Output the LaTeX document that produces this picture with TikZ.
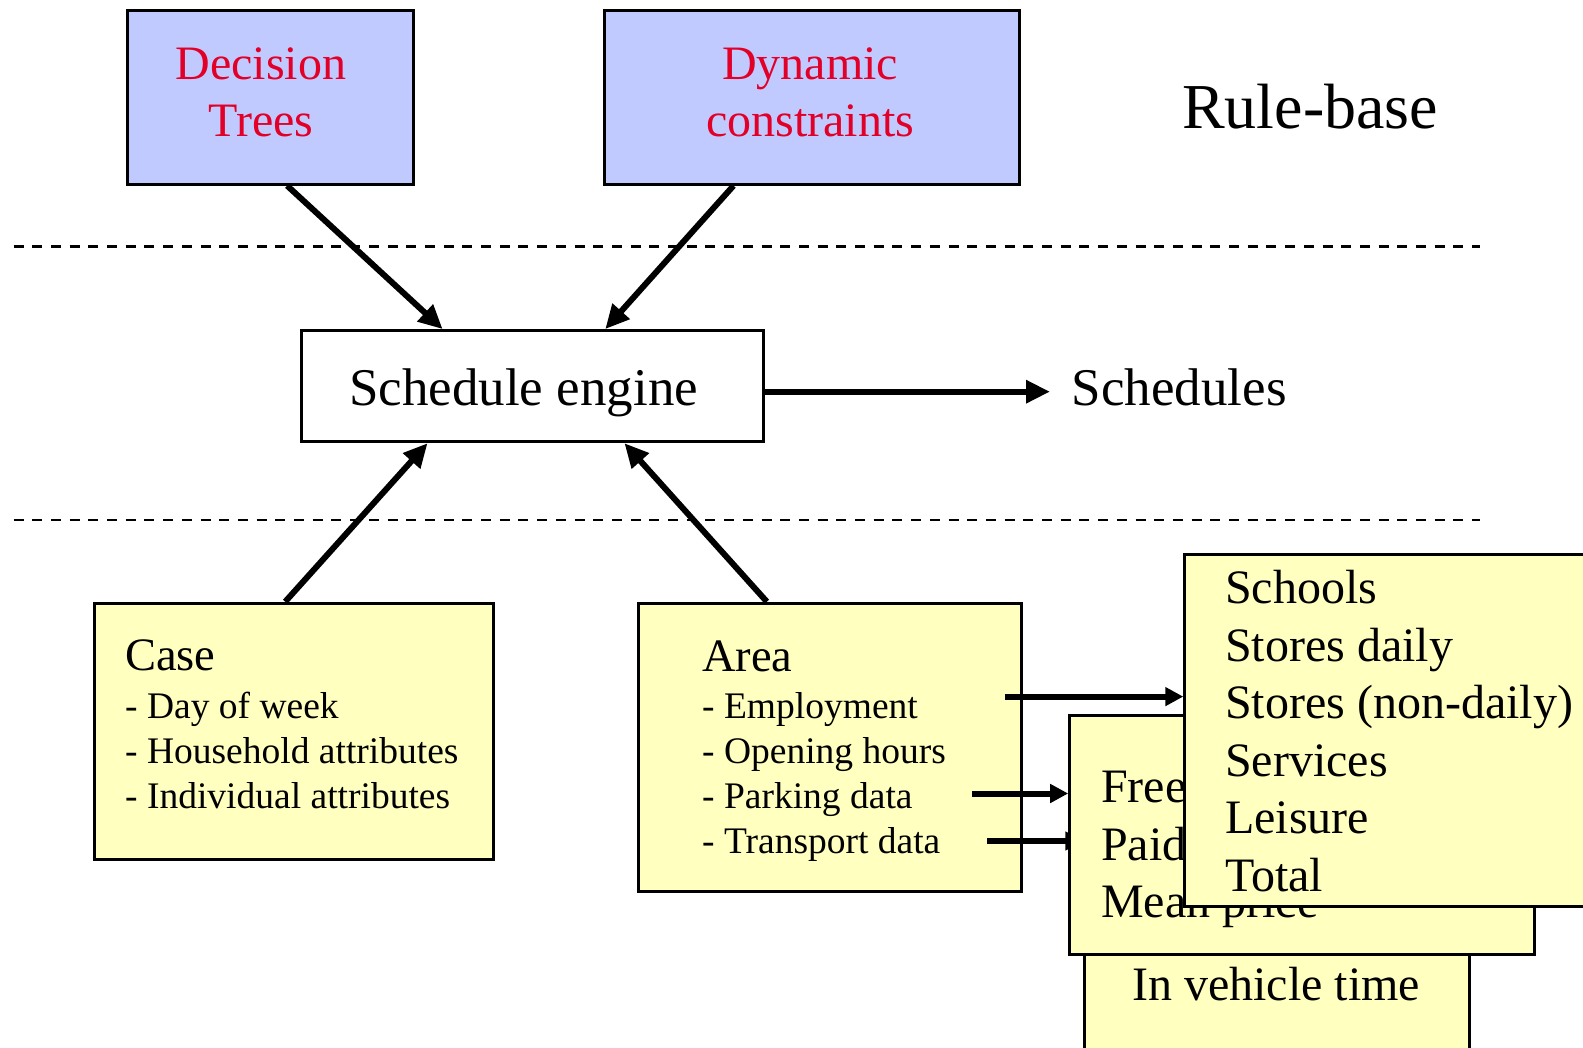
\documentclass[tikz,border=0pt]{standalone}
\usepackage{fontspec}
\setmainfont{Liberation Serif}
\usetikzlibrary{arrows.meta,calc}

\definecolor{ruleblue}{RGB}{192,202,255}
\definecolor{rulered}{RGB}{226,0,40}
\definecolor{datayellow}{RGB}{255,255,192}

\tikzset{
  box/.style={draw=black, line width=3pt, inner sep=0pt, anchor=north west},
  rulebox/.style={box, fill=ruleblue},
  databox/.style={box, fill=datayellow},
  enginebox/.style={box, fill=white},
  flow/.style={line width=6pt, -{Triangle[length=24pt,width=22pt]}},
  feed/.style={line width=6pt, -{Triangle[length=18pt,width=18pt]}},
  layer/.style={line width=2.6pt, dash pattern=on 10pt off 8.7pt},
  txt/.style={anchor=base west, inner sep=0pt},
  ctxt/.style={anchor=base, inner sep=0pt},
  huge/.style={font=\fontsize{64}{72}\selectfont},
  large/.style={font=\fontsize{53}{60}\selectfont},
  medium/.style={font=\fontsize{48}{56}\selectfont},
  title/.style={font=\fontsize{46.5}{54}\selectfont},
  small/.style={font=\fontsize{37.5}{44}\selectfont},
  rule/.style={ctxt, medium, text=rulered},
}

\begin{document}
\begin{tikzpicture}[x=1pt, y=-1pt]
  \useasboundingbox (0,0) rectangle (1583,1048);
  \clip (0,0) rectangle (1583,1048);

  % layer separators
  \draw[layer] (13.5,246.3) -- (1480,246.3);
  \draw[layer] (13.5,520) -- (1480,520);

  % rule-base
  \node[rulebox, minimum width=285.7pt, minimum height=173.6pt] (dt) at (126.2,9.1) {};
  \node[rule] (dt1) at (261,79.6) {Decision};
  \node[rule] (dt2) at (261,137) {Trees};

  \node[rulebox, minimum width=415pt, minimum height=173.6pt] (dc) at (602.7,9.1) {};
  \node[rule] (dc1) at (810.2,79.6) {Dynamic};
  \node[rule] (dc2) at (810.2,137) {constraints};

  \node[txt, huge] (rb) at (1182,129) {Rule-base};

  % engine
  \node[enginebox, minimum width=462.3pt, minimum height=111.1pt] (se) at (299.9,329.1) {};
  \node[txt, large] (set) at (349,406) {Schedule engine};
  \node[txt, large] (out) at (1071.5,406) {Schedules};
  \coordinate (outin) at (1050,391.7);

  % inputs
  \node[databox, minimum width=398.8pt, minimum height=256.5pt] (case) at (92.9,601.7) {};
  \node[txt, title] (case0) at (125,670.5) {Case};
  \foreach \t [count=\i] in {- Day of week, - Household attributes, - Individual attributes}
    \node[txt, small] (case\i) at (125,{673.5+45*\i}) {\t};

  \node[databox, minimum width=382.7pt, minimum height=287.8pt] (area) at (637,601.7) {};
  \node[txt, title] (area0) at (702,671) {Area};
  \foreach \t [count=\i] in {- Employment, - Opening hours, - Parking data, - Transport data}
    \node[txt, small] (area\i) at (702,{673.5+45*\i}) {\t};

  % flows into and out of the engine
  \draw[flow] ([xshift=16.6pt]dt.south) -- ([xshift=-89.9pt]se.north);
  \draw[flow] ([xshift=-78.2pt]dc.south) -- ([xshift=72.7pt]se.north);
  \draw[flow] ([xshift=-8.6pt]case.north) -- ([xshift=-105pt]se.south);
  \draw[flow] ([xshift=-63pt]area.north) -- ([xshift=91.9pt]se.south);
  \draw[flow] (se.east |- outin) -- (outin);

  % area details
  \coordinate (emp) at (1004.6,696.6);
  \coordinate (park) at (972.2,793.5);
  \coordinate (trans) at (987.4,841);

  \node[databox, minimum width=384.7pt, minimum height=220pt] (veh) at (1083.3,900) {};
  \node[txt, medium] (veh1) at (1132,1000) {In vehicle time};
  \draw[feed] (trans) -- (trans -| veh.west);

  \node[databox, minimum width=464.4pt, minimum height=239.2pt] (pk) at (1068.2,713.8) {};
  \node[txt, medium] (pk1) at (1101,802.5) {Free};
  \node[txt, medium] (pk2) at (1101,860) {Paid};
  \node[txt, medium] (pk3) at (1101,917.5) {Mean price};
  \draw[feed] (park) -- (park -| pk.west);

  \node[databox, minimum width=430pt, minimum height=351.3pt] (sch) at (1183.3,553.3) {};
  \foreach \t [count=\i] in {Schools, Stores daily, Stores (non-daily), Services, Leisure, Total}
    \node[txt, medium] (sch\i) at (1225,{546+57.5*\i}) {\t};
  \draw[feed] (emp) -- (emp -| sch.west);
\end{tikzpicture}
\end{document}
